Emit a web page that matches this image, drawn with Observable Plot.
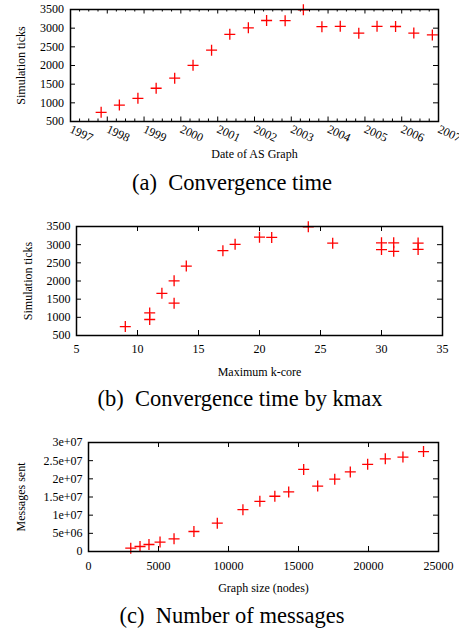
<!DOCTYPE html>
<html><head><meta charset="utf-8">
<script src="https://cdn.jsdelivr.net/npm/d3@7"></script>
<script src="https://cdn.jsdelivr.net/npm/@observablehq/plot@0.6"></script>
<style>
body{margin:0;background:#fff;width:459px;height:630px;position:relative;overflow:hidden;font-family:"Liberation Serif","Times New Roman","DejaVu Serif",serif;color:#000}
.panel{position:absolute;left:0}
.panel svg{font-family:"Liberation Serif","Times New Roman","DejaVu Serif",serif !important}
.cap{position:absolute;font-size:22.5px;line-height:22px;white-space:pre;transform:translateX(-50%)}
</style></head><body>
<div id="pa" class="panel" style="top:0"></div>
<div class="cap" style="left:232px;top:172px">(a)&#8194;Convergence time</div>
<div id="pb" class="panel" style="top:200px"></div>
<div class="cap" style="left:240px;top:388px">(b)&#8194;Convergence time by kmax</div>
<div id="pc" class="panel" style="top:420px"></div>
<div class="cap" style="left:232px;top:605px">(c)&#8194;Number of messages</div>
<script>
// ---- data ----
const graphDates = ["1997-11","1998-05","1998-11","1999-05","1999-11","2000-05","2000-11","2001-05","2001-11","2002-05","2002-11","2003-05","2003-11","2004-05","2004-11","2005-05","2005-11","2006-05","2006-11"];
const simTicks = [745, 940, 1120, 1390, 1660, 2005, 2410, 2835, 3010, 3205, 3200, 3490, 3040, 3050, 2865, 3050, 3045, 2868, 2818];
const kmax = [9, 11, 11, 13, 12, 13, 14, 17, 18, 20, 21, 24, 26, 30, 30, 31, 33, 33, 31];
const graphSize = [3018, 3680, 4320, 5110, 6110, 7530, 9200, 11030, 12240, 13310, 14300, 15370, 16370, 17590, 18700, 19940, 21200, 22460, 23930];
const messagesSent = [0.92e6, 1.38e6, 1.93e6, 2.6e6, 3.5e6, 5.5e6, 7.8e6, 11.5e6, 13.8e6, 15.2e6, 16.4e6, 22.6e6, 18.0e6, 19.9e6, 21.9e6, 24.0e6, 25.5e6, 26.0e6, 27.5e6];

const yearLabels = ["1997","1998","1999","2000","2001","2002","2003","2004","2005","2006","2007"];
const ticksYValues = [500,1000,1500,2000,2500,3000,3500];
const ticksYLabels = ["500","1000","1500","2000","2500","3000","3500"];
const kmaxXValues = [5,10,15,20,25,30,35];
const kmaxXLabels = ["5","10","15","20","25","30","35"];
const sizeXValues = [0,5000,10000,15000,20000,25000];
const sizeXLabels = ["0","5000","10000","15000","20000","25000"];
const msgYValues = [0,5e6,1e7,1.5e7,2e7,2.5e7,3e7];
const msgYLabels = ["0","5e+06","1e+07","1.5e+07","2e+07","2.5e+07","3e+07"];

// ---- helpers ----
const parseMonth = d3.utcParse("%Y-%m");
const plusSymbol = {draw(ctx, size){ const r = Math.sqrt(size/Math.PI); ctx.moveTo(-r,0); ctx.lineTo(r,0); ctx.moveTo(0,-r); ctx.lineTo(0,r); }};
const SERIF = "'Liberation Serif', 'Times New Roman', 'DejaVu Serif', serif";
const FS = 12;
const FONT = {fontFamily: SERIF, fontSize: FS + "px", background: "white", color: "black"};
const W = 459;

function xTicksInward(xTicks, fh, len) {
  return [
    Plot.ruleX(xTicks, {x: d => d, insetTop: fh - len, stroke: "black"}),
    Plot.ruleX(xTicks, {x: d => d, insetBottom: fh - len, stroke: "black"})
  ];
}
function yTicksInward(yTicks, fw, len) {
  return [
    Plot.ruleY(yTicks, {y: d => d, insetRight: fw - len, stroke: "black"}),
    Plot.ruleY(yTicks, {y: d => d, insetLeft: fw - len, stroke: "black"})
  ];
}
function plusDots(data, x, y) {
  return Plot.dot(data, {x, y, symbol: plusSymbol, r: 5.5, stroke: "red", fill: "none", strokeWidth: 1.3});
}
function yTitle(label, dx) {
  return Plot.text([label], {text: d => d, frameAnchor: "left", dx, rotate: -90, textAnchor: "middle", lineAnchor: "middle", fontSize: FS, fontFamily: SERIF});
}
function xTitle(label, dy) {
  return Plot.text([label], {text: d => d, frameAnchor: "bottom", dy, textAnchor: "middle", lineAnchor: "middle", fontSize: FS, fontFamily: SERIF});
}
function yTickLabels(values, labels, dx) {
  return Plot.text(values, {y: d => d, text: (d, i) => labels[i], frameAnchor: "left", dx, textAnchor: "end", lineAnchor: "middle", fontSize: FS, fontFamily: SERIF});
}
function xTickLabels(values, labels, dy) {
  return Plot.text(values, {x: d => d, text: (d, i) => labels[i], frameAnchor: "bottom", dy, textAnchor: "middle", lineAnchor: "middle", fontSize: FS, fontFamily: SERIF});
}

// ---- panel (a) ----
{
  const H = 165, mt = 9, mb = 44, ml = 70, mr = 21;
  const fh = H - mt - mb, fw = W - ml - mr;
  const data = graphDates.map((d, i) => ({date: parseMonth(d), ticks: simTicks[i]}));
  const years = yearLabels.map(y => d3.utcParse("%Y")(y));
  const quarters = d3.utcMonth.every(3).range(years[0], years[years.length - 1]).filter(d => d.getUTCMonth() !== 0);
  const p = Plot.plot({
    width: W, height: H, marginTop: mt, marginBottom: mb, marginLeft: ml, marginRight: mr,
    style: FONT,
    x: {type: "utc", domain: [years[0], years[years.length - 1]], axis: null},
    y: {domain: [500, 3500], axis: null},
    marks: [
      ...xTicksInward(quarters, fh, 2.5),
      ...xTicksInward(years, fh, 4.5),
      ...yTicksInward(ticksYValues, fw, 5),
      yTickLabels(ticksYValues, ticksYLabels, -6.5),
      Plot.text(years, {x: d => d, text: (d, i) => yearLabels[i], frameAnchor: "bottom", dy: 7, rotate: 25, textAnchor: "start", lineAnchor: "middle", fontSize: FS, fontFamily: SERIF}),
      yTitle("Simulation ticks", -49),
      xTitle("Date of AS Graph", 33),
      plusDots(data, "date", "ticks"),
      Plot.frame({stroke: "black", strokeWidth: 1.5})
    ]
  });
  document.getElementById("pa").append(p);
}

// ---- panel (b) ----
{
  const H = 180, mt = 26, mb = 45, ml = 76, mr = 17;
  const fh = H - mt - mb, fw = W - ml - mr;
  const data = kmax.map((k, i) => ({k, ticks: simTicks[i]}));
  const p = Plot.plot({
    width: W, height: H, marginTop: mt, marginBottom: mb, marginLeft: ml, marginRight: mr,
    style: FONT,
    x: {domain: [5, 35], axis: null},
    y: {domain: [500, 3500], axis: null},
    marks: [
      ...xTicksInward(kmaxXValues, fh, 5),
      ...yTicksInward(ticksYValues, fw, 5),
      yTickLabels(ticksYValues, ticksYLabels, -6),
      xTickLabels(kmaxXValues, kmaxXLabels, 13.3),
      yTitle("Simulation ticks", -48.5),
      xTitle("Maximum k-core", 36.7),
      plusDots(data, "k", "ticks"),
      Plot.frame({stroke: "black", strokeWidth: 1.5})
    ]
  });
  document.getElementById("pb").append(p);
}

// ---- panel (c) ----
{
  const H = 180, mt = 22, mb = 49, ml = 88, mr = 21;
  const fh = H - mt - mb, fw = W - ml - mr;
  const data = graphSize.map((n, i) => ({n, m: messagesSent[i]}));
  const p = Plot.plot({
    width: W, height: H, marginTop: mt, marginBottom: mb, marginLeft: ml, marginRight: mr,
    style: FONT,
    x: {domain: [0, 25000], axis: null},
    y: {domain: [0, 3e7], axis: null},
    marks: [
      ...xTicksInward(sizeXValues, fh, 5),
      ...yTicksInward(msgYValues, fw, 5),
      yTickLabels(msgYValues, msgYLabels, -6),
      xTickLabels(sizeXValues, sizeXLabels, 15),
      yTitle("Messages sent", -67),
      xTitle("Graph size (nodes)", 36.3),
      plusDots(data, "n", "m"),
      Plot.frame({stroke: "black", strokeWidth: 1.5})
    ]
  });
  document.getElementById("pc").append(p);
}
</script>
</body></html>
